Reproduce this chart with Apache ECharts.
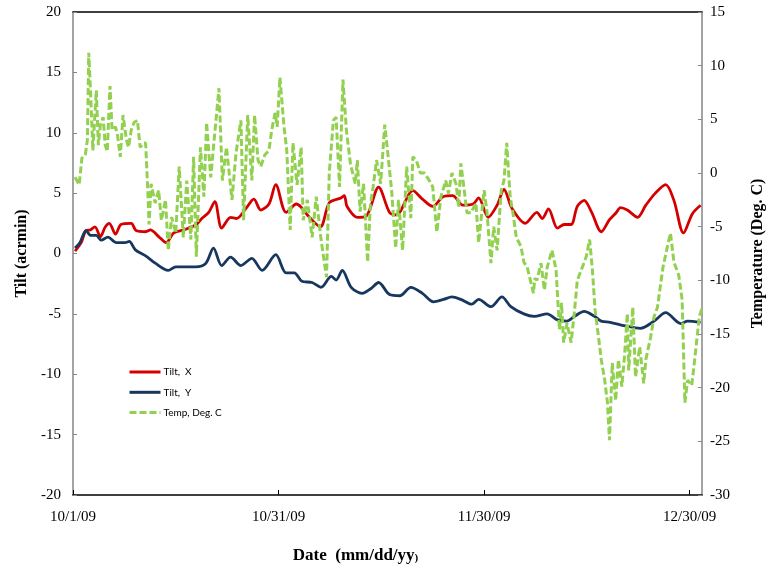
<!DOCTYPE html>
<html>
<head>
<meta charset="utf-8">
<script src="https://cdn.jsdelivr.net/npm/echarts@6/dist/echarts.min.js"></script>
<style>
html,body{margin:0;padding:0;background:#fff;}
#chart{width:767px;height:570px;}
</style>
</head>
<body>
<div id="chart"></div>
<script>
// Day offsets are measured from 10/1/09 (day 0).
const startDate = Date.UTC(2009, 9, 1);
const xTickDays = [0, 30, 60, 90];

const tiltXDays = [0.3,1.2,1.9,2.5,3.2,4.0,4.7,5.3,6.2,7.0,8.5,9.2,10.6,11.3,12.5,13.6,14.7,16.4,18.0,18.8,19.8,20.7,21.7,23.0,23.9,25.2,26.4,27.4,28.6,29.6,31.1,32.6,34.5,36.1,37.4,39.1,39.6,40.0,41.5,42.8,44.6,46.2,47.2,49.6,51.0,52.5,54.0,55.4,56.9,58.4,59.2,60.6,61.9,62.9,64.1,66.0,67.7,68.5,69.4,70.7,71.7,72.7,73.6,74.6,75.7,77.1,78.3,79.3,79.9,80.9,82.4,83.6,85.0,86.5,87.7,89.1,90.4,91.6];
const tiltX = [0.2,0.9,1.9,1.95,2.2,1.4,2.2,2.5,1.6,2.4,2.5,1.9,1.8,1.95,1.4,0.9,1.7,2.0,2.4,2.9,3.4,4.3,2.1,3.0,2.9,3.7,4.5,3.6,4.1,5.7,3.4,4.1,3.0,2.2,4.2,4.6,4.8,3.9,3.0,3.1,5.5,3.4,3.2,5.2,4.5,3.9,4.7,4.8,4.0,4.1,4.6,3.0,4.0,5.3,3.7,2.5,3.4,2.9,3.7,2.1,2.4,2.4,3.9,4.4,3.4,1.8,2.8,3.4,3.8,3.6,3.0,4.0,5.0,5.7,4.4,1.7,3.3,4.0];

const tiltYDays = [0.3,1.0,1.9,2.6,3.4,4.1,5.1,6.3,7.6,8.2,9.1,10.6,12.0,13.9,15.0,16.4,17.9,19.4,20.5,21.7,23.0,24.5,26.1,27.6,29.6,31.1,32.3,33.4,34.9,36.2,37.7,38.4,39.3,40.6,42.2,43.5,44.6,46.2,47.7,49.3,51.0,52.6,54.1,55.3,56.6,58.2,59.2,61.0,62.6,63.9,65.8,67.3,69.2,70.7,72.1,73.2,74.6,76.1,77.1,78.4,80.6,82.8,84.8,86.5,88.7,89.7,91.6];
const tiltY = [0.45,0.9,1.9,1.5,1.5,1.1,1.35,0.9,0.9,1.0,0.3,-0.2,-0.8,-1.4,-1.1,-1.1,-1.1,-0.8,0.45,-1.0,-0.3,-1.0,-0.4,-1.4,-0.1,-1.6,-1.6,-2.3,-2.4,-2.8,-1.9,-2.2,-1.4,-2.8,-3.3,-2.9,-2.4,-3.4,-3.5,-2.8,-3.3,-4.0,-3.8,-3.6,-3.8,-4.2,-3.8,-4.4,-3.6,-4.4,-5.0,-5.2,-5.0,-5.5,-5.6,-5.2,-4.8,-5.2,-5.6,-5.7,-6.0,-6.2,-5.6,-4.9,-5.8,-5.6,-5.7];

const tempDays = [0.3,0.9,1.3,1.8,2.1,2.3,2.6,2.9,3.4,3.7,4.0,4.4,4.7,5.0,5.4,5.7,6.2,6.5,6.9,7.3,7.8,8.1,8.5,8.9,9.4,9.8,10.3,10.6,10.9,11.1,11.4,12.0,12.5,12.9,13.5,13.9,14.4,15.0,15.5,16.1,16.6,17.2,17.6,18.0,18.6,19.1,19.5,20.1,20.5,21.3,21.8,22.4,23.2,23.8,24.5,24.9,25.5,26.1,26.5,27.0,27.4,28.0,28.6,29.0,29.5,29.8,30.2,30.8,31.2,31.7,32.1,32.7,33.3,33.6,34.2,34.9,35.5,36.2,37.0,37.4,38.0,38.4,38.9,39.4,39.9,40.5,41.2,41.5,41.9,42.4,43.0,43.4,43.8,44.3,44.9,45.5,45.9,46.5,47.1,47.5,48.1,48.7,49.3,49.6,50.1,50.7,51.3,52.1,52.5,53.1,53.7,54.4,54.8,55.3,55.9,56.3,56.6,57.0,57.5,58.1,58.8,59.2,60.0,60.4,61.0,61.4,61.9,62.5,62.9,63.3,63.8,64.2,64.7,65.1,65.4,65.8,66.3,66.9,67.2,67.4,67.7,68.3,68.8,69.2,69.9,70.5,71.0,71.3,71.6,72.1,72.7,73.2,73.6,74.2,74.9,75.4,75.8,76.2,76.7,77.1,77.6,78.0,78.3,78.7,79.2,79.6,80.1,80.5,80.9,81.1,81.7,82.1,82.7,83.3,83.6,84.3,84.8,85.3,86.1,86.8,87.2,87.7,88.4,88.9,89.3,89.7,90.3,90.8,91.4,91.8];
const tempValues = [-0.4,-1.1,1.4,1.7,3.1,11.2,7.0,2.1,7.7,2.6,4.5,5.2,2.6,2.0,8.1,4.0,4.3,3.5,1.5,5.4,3.1,2.4,4.0,4.7,4.9,2.4,2.8,2.8,-1.4,-4.8,-1.0,-2.8,-1.6,-4.4,-2.5,-7.2,-4.1,-5.6,0.6,-6.0,-0.7,-6.2,1.5,-7.8,2.4,-2.2,4.7,-0.4,2.4,7.9,-0.7,2.4,-2.5,1.9,4.9,-4.4,5.4,-0.7,5.4,1.2,0.6,1.7,2.1,4.0,5.6,4.3,8.9,4.3,2.1,-5.3,2.8,-1.1,2.4,-4.4,-2.5,-6.0,-2.2,-6.2,-9.7,0.0,4.9,5.2,-1.3,8.7,4.0,0.8,-1.0,1.2,-3.6,-1.0,-8.3,-3.0,-1.3,1.2,-1.0,4.5,2.1,-1.6,-7.0,-2.5,-7.2,0.6,-4.2,1.5,1.2,0.0,0.0,-0.8,-1.3,-5.5,-2.2,-0.7,-1.9,0.0,-1.0,-3.2,0.9,-1.1,-3.7,-3.7,-2.8,-6.5,-1.6,-3.5,-8.4,-5.0,-7.2,-1.6,-0.7,2.8,-2.2,-3.7,-6.0,-6.5,-6.9,-8.3,-8.8,-10.4,-11.2,-9.8,-10.0,-8.4,-10.9,-8.8,-7.2,-9.0,-14.6,-12.1,-15.8,-14.0,-15.8,-12.8,-10.0,-9.0,-7.8,-6.2,-9.0,-12.8,-15.3,-17.4,-19.3,-21.4,-24.9,-17.7,-21.2,-17.4,-19.9,-17.0,-13.1,-18.4,-12.5,-19.0,-16.2,-19.6,-17.4,-15.3,-13.4,-12.5,-8.8,-6.7,-5.6,-8.3,-9.5,-11.8,-21.4,-19.3,-19.8,-17.0,-13.4,-12.6];

const seriesNames = ['Tilt,  X', 'Tilt,  Y', 'Temp, Deg. C'];

function pairs(days, vals) { return days.map((d, i) => [d, vals[i]]); }
function dayLabel(v) {
  const d = new Date(startDate + Math.round(v) * 86400000);
  return (d.getUTCMonth() + 1) + '/' + d.getUTCDate() + '/' + String(d.getUTCFullYear()).slice(2);
}

const serif = 'Liberation Serif';
const chart = echarts.init(document.getElementById('chart'));
chart.setOption({
  animation: false,
  backgroundColor: '#fff',
  grid: { left: 73, right: 65, top: 12, bottom: 75, containLabel: false, outerBoundsMode: 'none' },
  legend: {
    orient: 'vertical', left: 128, top: 367, padding: 0,
    itemWidth: 31, itemHeight: 10, itemGap: 10.3,
    itemStyle: { opacity: 0 },
    lineStyle: { width: 3 },
    textStyle: { fontFamily: 'Lato', fontSize: 10, color: '#000', padding: [0, 0, 0, -2] },
    data: seriesNames
  },
  xAxis: [{
    type: 'value', min: 0, max: 91.8, interval: 30,
    axisLine: { onZero: false, lineStyle: { color: '#000', width: 1.5 } },
    axisTick: { inside: true, length: 5, lineStyle: { color: '#000' } },
    splitLine: { show: false },
    axisLabel: {
      showMaxLabel: false, fontFamily: serif, fontSize: 15, color: '#000', margin: 15,
      formatter: v => xTickDays.indexOf(v) >= 0 ? dayLabel(v) : ''
    },
    name: 'Date  (mm/dd/yy{s|)}', nameLocation: 'middle', nameGap: 52,
    nameTextStyle: {
      fontFamily: serif, fontSize: 17, fontWeight: 'bold', color: '#000', padding: [0, 64, 0, 0],
      rich: { s: { fontFamily: serif, fontSize: 11, fontWeight: 'bold', color: '#000', verticalAlign: 'bottom' } }
    }
  }, {
    type: 'value', position: 'top', min: 0, max: 91.8,
    axisLine: { onZero: false, lineStyle: { color: '#000', width: 1.5 } },
    axisTick: { show: false }, axisLabel: { show: false }, splitLine: { show: false }
  }],
  yAxis: [{
    type: 'value', position: 'left', min: -20, max: 20, interval: 5,
    axisLine: { show: true, onZero: false, lineStyle: { color: '#868686', width: 1.5 } },
    axisTick: { show: true, inside: true, length: 4, lineStyle: { color: '#868686' } },
    splitLine: { show: false },
    axisLabel: { fontFamily: serif, fontSize: 15, color: '#000', margin: 12 },
    name: 'Tilt (acrmin)', nameLocation: 'middle', nameRotate: 90, nameGap: 41,
    nameTextStyle: { fontFamily: serif, fontSize: 16, fontWeight: 'bold', color: '#000' }
  }, {
    type: 'value', position: 'right', min: -30, max: 15, interval: 5,
    axisLine: { show: true, onZero: false, lineStyle: { color: '#868686', width: 1.5 } },
    axisTick: { show: true, inside: true, length: 4, lineStyle: { color: '#868686' } },
    splitLine: { show: false },
    axisLabel: { fontFamily: serif, fontSize: 15, color: '#000', margin: 8 },
    name: 'Temperature (Deg. C)', nameLocation: 'middle', nameRotate: 90, nameGap: 48,
    nameTextStyle: { fontFamily: serif, fontSize: 16, fontWeight: 'bold', color: '#000' }
  }],
  series: [{
    name: seriesNames[0], type: 'line', xAxisIndex: 0, yAxisIndex: 0,
    data: pairs(tiltXDays, tiltX), symbol: 'none', smooth: 0.3,
    lineStyle: { color: '#d40000', width: 2.8 }, itemStyle: { color: '#d40000' }
  }, {
    name: seriesNames[1], type: 'line', xAxisIndex: 0, yAxisIndex: 0,
    data: pairs(tiltYDays, tiltY), symbol: 'none', smooth: 0.3,
    lineStyle: { color: '#17375e', width: 2.8 }, itemStyle: { color: '#17375e' }
  }, {
    name: seriesNames[2], type: 'line', xAxisIndex: 0, yAxisIndex: 1,
    data: pairs(tempDays, tempValues), symbol: 'none',
    lineStyle: { color: '#92d050', width: 3, type: [7, 3] }, itemStyle: { color: '#92d050' }
  }]
});
</script>
</body>
</html>
